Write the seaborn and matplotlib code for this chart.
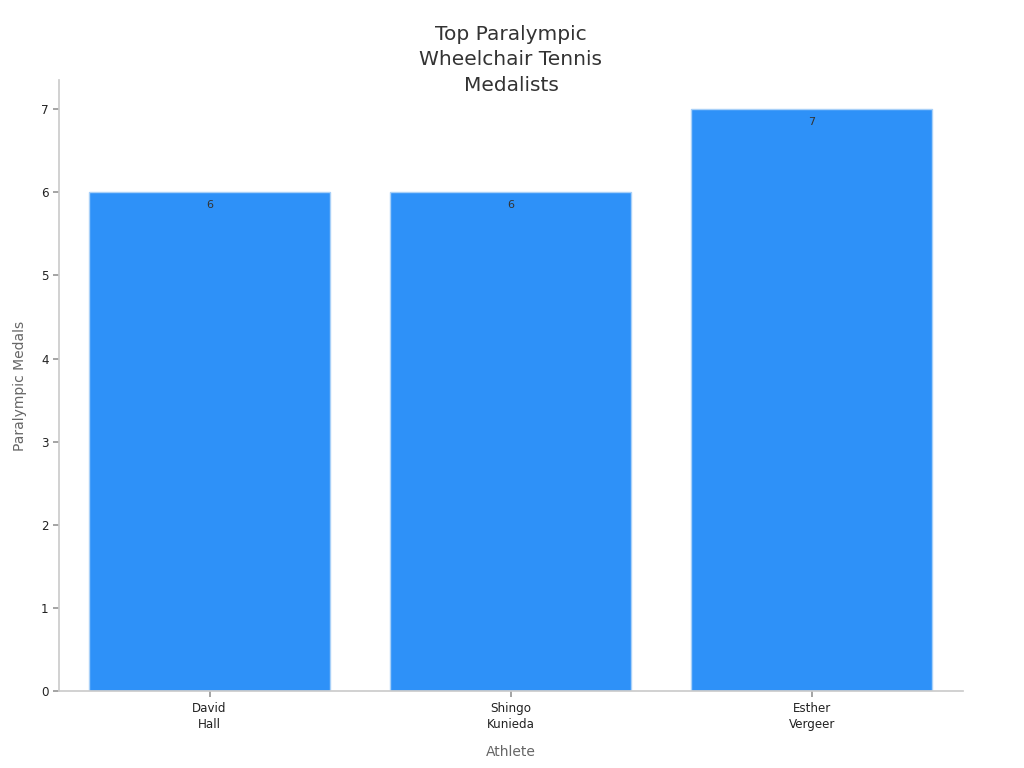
import matplotlib
matplotlib.use("Agg")
import matplotlib.pyplot as plt
import seaborn as sns
import pandas as pd

athletes = ["David\nHall", "Shingo\nKunieda", "Esther\nVergeer"]
medals = [6, 6, 7]

df = pd.DataFrame({"Athlete": athletes, "Paralympic Medals": medals})

sns.set_theme(style="ticks")
plt.rcParams['font.family'] = ['DejaVu Sans']

fig, ax = plt.subplots(figsize=(10.24, 7.68), dpi=100)
fig.subplots_adjust(left=0.0576, right=0.940, bottom=0.100, top=0.896)

sns.barplot(data=df, x="Athlete", y="Paralympic Medals", color="#2E91F8",
            saturation=1, width=0.8, edgecolor="#A8D0F8", linewidth=1, ax=ax)

for i, v in enumerate(medals):
    ax.annotate(str(v), (i, v), xytext=(0, -13), textcoords="offset points",
                ha="center", va="bottom", fontsize=8, color="#333333")

ax.set_xlim(-0.5, 2.5)
ax.set_ylim(0, 7.35)

# title block centred over the axes
fig.text(0.499, 0.922, "Top Paralympic\nWheelchair Tennis\nMedalists", fontsize=14.5,
         color="#333333", ha="center", va="center", linespacing=1.45)

ax.set_xlabel("Athlete", fontsize=10, color="#666666", labelpad=10)
ax.set_ylabel("Paralympic Medals", fontsize=10, color="#666666", labelpad=10)
ax.tick_params(axis="both", labelsize=8.6, labelcolor="#222222", length=4, color="#999999")
for lbl in ax.get_xticklabels():
    lbl.set_linespacing(1.3)
sns.despine(ax=ax)
for s in ["left", "bottom"]:
    ax.spines[s].set_color("#cccccc")

fig.savefig("out.png", dpi=100)
